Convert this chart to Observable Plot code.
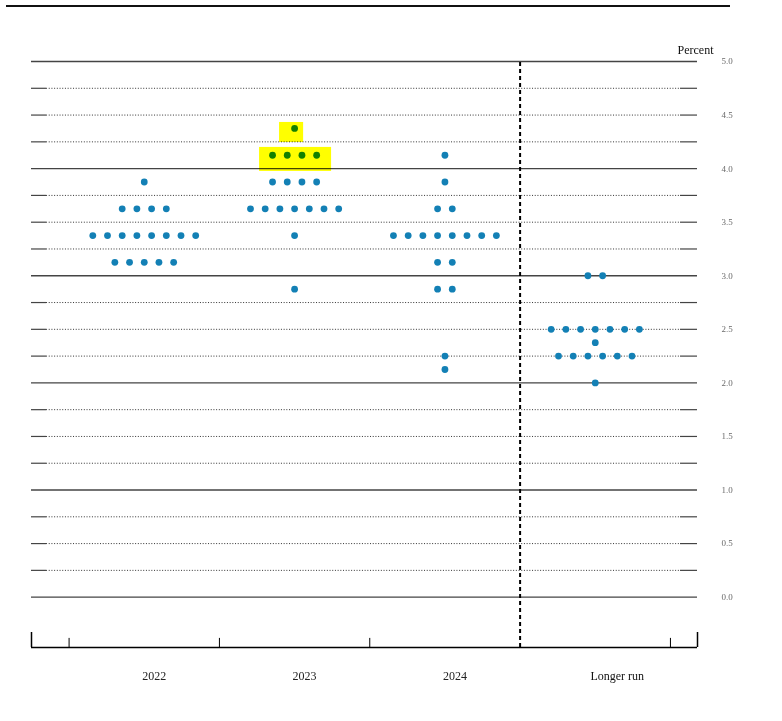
<!DOCTYPE html>
<html>
<head>
<meta charset="utf-8">
<script src="https://cdn.jsdelivr.net/npm/d3@7"></script>
<script src="https://cdn.jsdelivr.net/npm/@observablehq/plot@0.6"></script>
<style>
  html, body { margin: 0; padding: 0; background: #fff; }
  #wrap { position: relative; width: 782px; height: 721px; }
  #topline { position: absolute; left: 6px; top: 5px; width: 724px; height: 2px; background: #111; }
  #chart { position: absolute; left: 0; top: 0; }
</style>
</head>
<body>
<div id="wrap">
  <div id="chart"></div>
  <div id="topline"></div>
</div>
<script>
// ---- Data ----
const categories = ["2022", "2023", "2024", "Longer run"];

const rates2022 = [3.875, 3.625, 3.375, 3.125];
const counts2022 = [1, 4, 8, 5];

const rates2023 = [4.375, 4.125, 3.875, 3.625, 3.375, 2.875];
const counts2023 = [1, 4, 4, 7, 1, 1];

const rates2024 = [4.125, 3.875, 3.625, 3.375, 3.125, 2.875, 2.25, 2.125];
const counts2024 = [1, 1, 2, 8, 2, 2, 1, 1];

const ratesLonger = [3.0, 2.5, 2.375, 2.25, 2.0];
const countsLonger = [2, 7, 1, 6, 1];

const yTicks = [0, 0.5, 1, 1.5, 2, 2.5, 3, 3.5, 4, 4.5, 5];
const majorGrid = [0, 1, 2, 3, 4, 5];
const minorGrid = d3.range(0, 5.001, 0.25).filter(v => !majorGrid.includes(v));

// highlight annotations (2023 column), in data units
const hlX1 = [0.90, 0.767];
const hlX2 = [1.06, 1.246];
const hlY1 = [4.244, 3.974];
const hlY2 = [4.431, 4.198];

// ---- Derived ----
const X0 = -0.75, X1 = 3.68, Y0 = -0.47, Y1 = 5;
const spacing = 0.0978;
const dots = [];
[[rates2022, counts2022], [rates2023, counts2023], [rates2024, counts2024], [ratesLonger, countsLonger]]
  .forEach(([rates, counts], ci) => {
    rates.forEach((r, k) => {
      const n = counts[k];
      for (let j = 0; j < n; j++) dots.push({x: ci + (j - (n - 1) / 2) * spacing, y: r});
    });
  });
const highlights = hlX1.map((_, i) => ({x1: hlX1[i], x2: hlX2[i], y1: hlY1[i], y2: hlY2[i]}));
const catIdx = categories.map((c, i) => ({label: c, i}));

const chart = Plot.plot({
  width: 782,
  height: 721,
  marginLeft: 31,
  marginRight: 85,
  marginTop: 61,
  marginBottom: 74,
  style: {fontFamily: "'Liberation Serif', 'Times New Roman', serif", background: "transparent"},
  x: {domain: [X0, X1], axis: null},
  y: {domain: [Y0, Y1], axis: null},
  marks: [
    Plot.ruleY(majorGrid, {x1: X0, x2: X1, stroke: "#444", strokeWidth: 1.3}),
    Plot.ruleY(minorGrid, {x1: X0 + 0.1, x2: X1 - 0.113, stroke: "#333", strokeWidth: 1, strokeDasharray: "1,1.7"}),
    Plot.ruleY(minorGrid, {x1: X0, x2: X0 + 0.1, stroke: "#444", strokeWidth: 1.2}),
    Plot.ruleY(minorGrid, {x1: X1 - 0.113, x2: X1, stroke: "#444", strokeWidth: 1.2}),
    Plot.ruleY([Y0], {x1: X0, x2: X1, stroke: "#000", strokeWidth: 1.5}),
    Plot.ruleX([-0.5, 0.5, 1.5, 3.5], {y1: Y0, y2: Y0 + 0.085, stroke: "#000", strokeWidth: 1}),
    Plot.ruleX([X0, X1], {y1: Y0, y2: Y0 + 0.14, stroke: "#000", strokeWidth: 1.5}),
    Plot.ruleX([2.5], {y1: Y0, y2: Y1, stroke: "#000", strokeWidth: 2, strokeDasharray: "4,3"}),
    Plot.dot(dots, {x: "x", y: "y", r: 3.4, fill: "#1380b5", stroke: "none"}),
    Plot.rect(highlights, {x1: "x1", x2: "x2", y1: "y1", y2: "y2", fill: "#ffff00", mixBlendMode: "multiply"}),
    Plot.axisY({anchor: "right", ticks: yTicks, tickSize: 0, tickPadding: 24, tickFormat: d3.format(".1f"), fontSize: 9, fill: "#6a6a6a", label: null}),
    Plot.text(["Percent"], {frameAnchor: "top-right", dx: -2, dy: -16, textAnchor: "middle", fontSize: 12, fill: "#111"}),
    Plot.text(catIdx.slice(0, 3), {x: "i", y: Y0, text: "label", dx: 10, dy: 29, fontSize: 12, fill: "#222"}),
    Plot.text(catIdx.slice(3), {x: "i", y: Y0, text: "label", dx: 22, dy: 29, fontSize: 12, fill: "#111"})
  ]
});
// ensure multiply blending for the highlighter
d3.select(chart).selectAll("rect").filter(function() { return d3.select(this).attr("fill") === "#ffff00" || (this.parentNode && this.parentNode.getAttribute("fill") === "#ffff00"); })
  .style("mix-blend-mode", "multiply");
document.getElementById("chart").appendChild(chart);
</script>
</body>
</html>
